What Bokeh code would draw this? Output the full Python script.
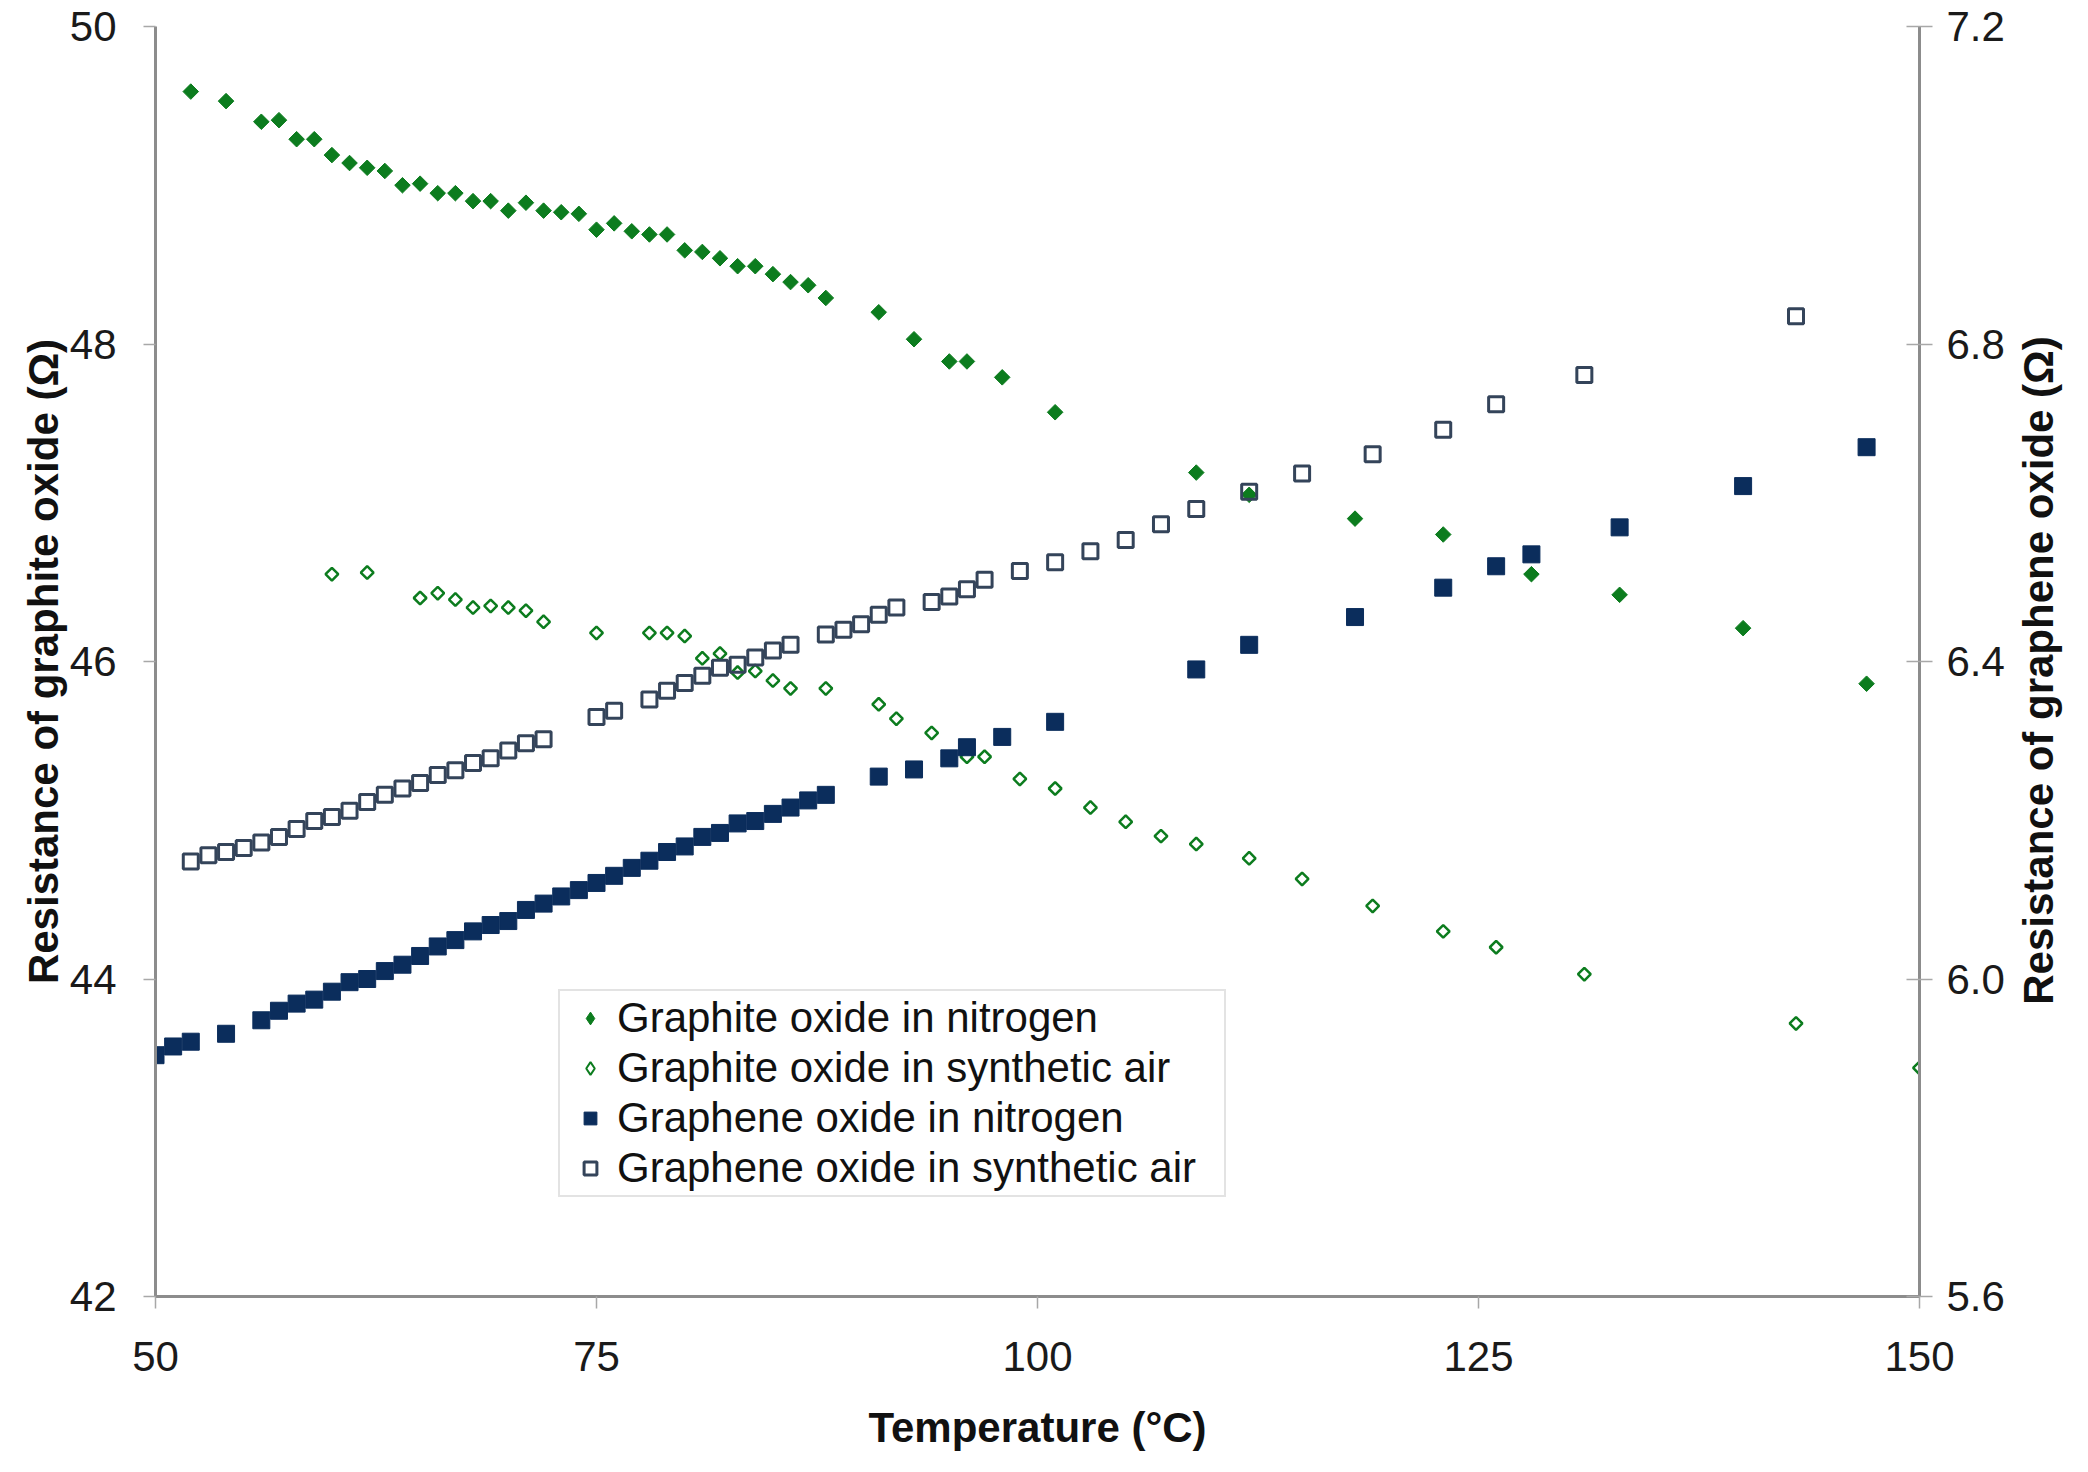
from math import pi
from bokeh.plotting import figure
from bokeh.models import Range1d, LinearAxis, FixedTicker, PrintfTickFormatter, Legend, LegendItem
from bokeh.embed import file_html
from bokeh.resources import INLINE

# values: temperature (degC) and resistance (ohm)
t_graphite_n2 = [52, 54, 56, 57, 58, 59, 60, 61, 62, 63, 64, 65, 66, 67, 68, 69, 70, 71, 72,
                 73, 74, 75, 76, 77, 78, 79, 80, 81, 82, 83, 84, 85, 86, 87, 88,
                 91, 93, 95, 96, 98, 101, 109, 112, 118, 123, 128, 133, 140, 147]
r_graphite_n2 = [49.59, 49.53, 49.40, 49.41, 49.29, 49.29, 49.19, 49.14, 49.11, 49.09, 49.00,
                 49.01, 48.95, 48.95, 48.90, 48.90, 48.84, 48.89, 48.84, 48.83, 48.82, 48.72,
                 48.76, 48.71, 48.69, 48.69, 48.59, 48.58, 48.54, 48.49, 48.49, 48.44, 48.39,
                 48.37, 48.29, 48.20, 48.03, 47.89, 47.89, 47.79, 47.57, 47.19, 47.05, 46.90,
                 46.80, 46.55, 46.42, 46.21, 45.86]

t_graphite_air = [60, 62, 65, 66, 67, 68, 69, 70, 71, 72, 75, 78, 79, 80, 81, 82, 83, 84, 85, 86,
                  88, 91, 92, 94, 96, 97, 99, 101, 103, 105, 107, 109, 112, 115, 119, 123, 126,
                  131, 143, 150]
r_graphite_air = [46.55, 46.56, 46.40, 46.43, 46.39, 46.34, 46.35, 46.34, 46.32, 46.25, 46.18,
                  46.18, 46.18, 46.16, 46.02, 46.05, 45.93, 45.94, 45.88, 45.83, 45.83, 45.73,
                  45.64, 45.55, 45.40, 45.40, 45.26, 45.20, 45.08, 44.99, 44.90, 44.85, 44.76,
                  44.63, 44.46, 44.30, 44.20, 44.03, 43.72, 43.44]

t_graphene_n2 = [50, 51, 52, 54, 56, 57, 58, 59, 60, 61, 62, 63, 64, 65, 66, 67, 68, 69, 70, 71,
                 72, 73, 74, 75, 76, 77, 78, 79, 80, 81, 82, 83, 84, 85, 86, 87, 88,
                 91, 93, 95, 96, 98, 101, 109, 112, 118, 123, 126, 128, 133, 140, 147]
r_graphene_n2 = [5.904, 5.915, 5.921, 5.931, 5.948, 5.960, 5.969, 5.974, 5.984, 5.996, 6.000,
                 6.010, 6.018, 6.029, 6.041, 6.049, 6.060, 6.068, 6.073, 6.087, 6.095, 6.104,
                 6.112, 6.121, 6.130, 6.140, 6.149, 6.160, 6.167, 6.179, 6.184, 6.196, 6.199,
                 6.208, 6.216, 6.225, 6.232, 6.255, 6.264, 6.278, 6.292, 6.305, 6.324, 6.390,
                 6.421, 6.456, 6.493, 6.520, 6.535, 6.569, 6.621, 6.670]

t_graphene_air = [52, 53, 54, 55, 56, 57, 58, 59, 60, 61, 62, 63, 64, 65, 66, 67, 68, 69, 70, 71,
                  72, 75, 76, 78, 79, 80, 81, 82, 83, 84, 85, 86, 88, 89, 90, 91, 92, 94, 95, 96,
                  97, 99, 101, 103, 105, 107, 109, 112, 115, 119, 123, 126, 131, 143]
r_graphene_air = [6.148, 6.156, 6.160, 6.165, 6.172, 6.179, 6.189, 6.199, 6.204, 6.212, 6.223,
                  6.232, 6.240, 6.247, 6.257, 6.263, 6.272, 6.278, 6.288, 6.297, 6.302, 6.330,
                  6.338, 6.352, 6.363, 6.373, 6.382, 6.392, 6.396, 6.405, 6.414, 6.421, 6.434,
                  6.440, 6.447, 6.459, 6.468, 6.475, 6.482, 6.491, 6.503, 6.514, 6.525, 6.539,
                  6.553, 6.573, 6.592, 6.614, 6.637, 6.661, 6.692, 6.724, 6.761, 6.835]

x_ticks = [50, 75, 100, 125, 150]
left_ticks = [42, 44, 46, 48, 50]
right_ticks = [5.6, 6.0, 6.4, 6.8, 7.2]

GREEN = "#0c7c1e"
NAVY = "#0b2d5c"
SLATE = "#34445a"
FONT = "Liberation Sans"

p = figure(width=2088, height=1456, x_range=Range1d(50, 150), y_range=Range1d(42, 50),
           output_backend="svg", toolbar_location=None,
           min_border_left=155, min_border_right=165, min_border_top=26, min_border_bottom=160)
p.extra_y_ranges = {"graphene": Range1d(5.6, 7.2)}
p.outline_line_color = None
p.grid.visible = False

right = LinearAxis(y_range_name="graphene")
p.add_layout(right, "right")


def style_axis(ax, label, ticks):
    ax.ticker = FixedTicker(ticks=ticks)
    ax.axis_label = label
    ax.axis_line_color = "#8c8c8c"
    ax.axis_line_width = 3
    ax.major_tick_line_color = "#a8a8a8"
    ax.major_tick_line_width = 1.5
    ax.minor_tick_line_color = None
    ax.major_label_text_font = FONT
    ax.major_label_text_font_size = "42px"
    ax.major_label_text_color = "#1a1a1a"
    ax.axis_label_text_font = FONT
    ax.axis_label_text_font_size = "42px"
    ax.axis_label_text_font_style = "bold"
    ax.axis_label_text_color = "#111111"


style_axis(p.xaxis[0], "Temperature (°C)", x_ticks)
style_axis(p.yaxis[0], "Resistance of graphite oxide (Ω)", left_ticks)
# the turned title starts at its anchor, so it is anchored at the bottom of the
# axis and pushed up to the middle with no-break spaces
style_axis(right, "\u00a0" * 25 + "Resistance of graphene oxide (Ω)", right_ticks)
right.formatter = PrintfTickFormatter(format="%.1f")
right.axis_label_orientation = pi / 2
right.axis_label_align = "start"

p.xaxis[0].major_tick_in = 0
p.xaxis[0].major_tick_out = 12
p.xaxis[0].major_label_standoff = 33
p.xaxis[0].axis_label_standoff = 30
p.yaxis[0].major_tick_in = 0
p.yaxis[0].major_tick_out = 12
p.yaxis[0].major_label_standoff = 27
p.yaxis[0].axis_label_standoff = 0
right.major_tick_in = 13
right.major_tick_out = 13
right.major_label_standoff = 14
right.axis_label_standoff = 31

# legend keys for the diamonds: the legend does not turn markers, so these
# plain diamonds sit hidden under the turned squares drawn next
key_g_n2 = p.scatter(t_graphite_n2, r_graphite_n2, marker="diamond", size=10,
                     fill_color=GREEN, line_color=GREEN)
key_g_air = p.scatter(t_graphite_air, r_graphite_air, marker="diamond", size=6,
                      fill_color=None, line_color=GREEN, line_width=2)

# graphite oxide on the left axis
p.scatter(t_graphite_n2, r_graphite_n2, marker="square", angle=pi / 4, size=11,
          fill_color=GREEN, line_color=GREEN, line_width=1)
p.scatter(t_graphite_air, r_graphite_air, marker="square", angle=pi / 4, size=9,
          fill_color="white", line_color=GREEN, line_width=2.5)

# graphene oxide on the right axis
gr_n2 = p.scatter(t_graphene_n2, r_graphene_n2, marker="square", size=17, y_range_name="graphene",
                  fill_color=NAVY, line_color=NAVY, line_width=1)
gr_air = p.scatter(t_graphene_air, r_graphene_air, marker="square", size=15, y_range_name="graphene",
                   fill_color=None, line_color=SLATE, line_width=3)

legend = Legend(items=[
    LegendItem(label="Graphite oxide in nitrogen", renderers=[key_g_n2]),
    LegendItem(label="Graphite oxide in synthetic air", renderers=[key_g_air]),
    LegendItem(label="Graphene oxide in nitrogen", renderers=[gr_n2]),
    LegendItem(label="Graphene oxide in synthetic air", renderers=[gr_air]),
], location=(403, 99))
legend.label_text_font = FONT
legend.label_text_font_size = "42px"
legend.label_text_color = "#111111"
legend.label_height = 48
legend.glyph_height = 32
legend.glyph_width = 54
legend.label_standoff = 0
legend.label_width = 604
legend.spacing = 2
legend.padding = 3
legend.margin = 0
legend.border_line_color = "#c8c8c8"
legend.border_line_width = 2
legend.background_fill_color = "white"
p.add_layout(legend)

open("out.html", "w").write(file_html(p, INLINE))
